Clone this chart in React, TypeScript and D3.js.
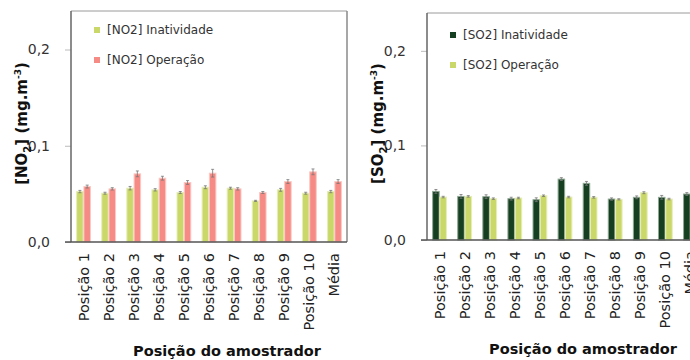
import React, { useEffect, useRef } from "react";
import * as d3 from "d3";

const categories = [
  "Posição 1", "Posição 2", "Posição 3", "Posição 4", "Posição 5",
  "Posição 6", "Posição 7", "Posição 8", "Posição 9", "Posição 10", "Média",
];

const no2Inatividade = [0.0524, 0.0507, 0.0559, 0.0542, 0.0514, 0.0569, 0.0559, 0.0427, 0.0542, 0.0507, 0.0524];
const no2InatividadeErr = [0.0012, 0.0010, 0.0018, 0.0012, 0.0010, 0.0015, 0.0010, 0.0006, 0.0015, 0.0010, 0.0012];
const no2Operacao = [0.0576, 0.0552, 0.0708, 0.0663, 0.0618, 0.0715, 0.0552, 0.0514, 0.0628, 0.0729, 0.0628];
const no2OperacaoErr = [0.0015, 0.0012, 0.0030, 0.0020, 0.0020, 0.0040, 0.0012, 0.0010, 0.0020, 0.0030, 0.0020];

const so2Inatividade = [0.0514, 0.0461, 0.0458, 0.0437, 0.0426, 0.0644, 0.0599, 0.0433, 0.0451, 0.0451, 0.0486];
const so2InatividadeErr = [0.0020, 0.0020, 0.0020, 0.0015, 0.0020, 0.0015, 0.0020, 0.0012, 0.0015, 0.0020, 0.0015];
const so2Operacao = [0.0454, 0.0461, 0.0437, 0.0444, 0.0468, 0.0454, 0.0451, 0.0430, 0.0500, 0.0433, 0.0453];
const so2OperacaoErr = [0.0008, 0.0008, 0.0008, 0.0008, 0.0008, 0.0008, 0.0008, 0.0006, 0.0010, 0.0008, 0.0008];

const yTicks = [0, 0.1, 0.2];

const FONT = "'DejaVu Sans', sans-serif";

type Series = { name: string; values: number[]; errs: number[]; color: string; edge: string };

type PanelOpts = {
  x0: number;
  x1: number;
  top: number;
  base: number;
  gas: string;
  legendDy: number;
  series: Series[];
};

const drawPanel = (svg: d3.Selection<SVGSVGElement, unknown, null, undefined>, o: PanelOpts) => {
  const g = svg.append("g");
  const y = d3.scaleLinear().domain([0, 0.24]).range([o.base, o.top]);
  const x = d3.scaleBand<string>().domain(categories).range([o.x0, o.x1]).paddingInner(0.45).paddingOuter(0.225);
  const sub = d3.scaleBand<number>().domain([0, 1]).range([0, x.bandwidth()]).paddingInner(0.1);
  const fmt = (v: number) => d3.format(".1f")(v).replace(".", ",");

  // frame
  g.append("line").attr("x1", o.x0).attr("x2", o.x1).attr("y1", o.top).attr("y2", o.top)
    .attr("stroke", "#9a9a9a").attr("stroke-width", 1);
  g.append("line").attr("x1", o.x1).attr("x2", o.x1).attr("y1", o.top).attr("y2", o.base)
    .attr("stroke", "#8a8a8a").attr("stroke-width", 1.5);

  // y axis
  const yAxis = g.append("g").attr("transform", `translate(${o.x0},0)`)
    .call(d3.axisLeft(y).tickValues(yTicks).tickSize(6).tickPadding(15).tickFormat((d) => fmt(d as number)));
  yAxis.select(".domain").remove();
  yAxis.selectAll(".tick line").attr("stroke", "#bbb");
  yAxis.selectAll(".tick text").attr("font-family", FONT).attr("font-size", 14).attr("fill", "#333");
  g.append("line").attr("x1", o.x0).attr("x2", o.x0).attr("y1", o.top).attr("y2", o.base)
    .attr("stroke", "#666").attr("stroke-width", 1.5);

  // bars
  o.series.forEach((s, si) => {
    const bars = g.append("g");
    bars.selectAll("rect").data(s.values).join("rect")
      .attr("x", (_, i) => (x(categories[i]) ?? 0) + (sub(si) ?? 0))
      .attr("y", (d) => y(d))
      .attr("width", sub.bandwidth())
      .attr("height", (d) => y(0) - y(d))
      .attr("fill", s.color)
      .attr("stroke", s.edge)
      .attr("stroke-width", 1);
    const cx = (i: number) => (x(categories[i]) ?? 0) + (sub(si) ?? 0) + sub.bandwidth() / 2;
    bars.selectAll("path.err").data(s.values).join("path")
      .attr("class", "err")
      .attr("d", (d, i) => {
        const c = cx(i);
        const hi = y(d + s.errs[i]);
        const lo = y(d - s.errs[i]);
        return `M${c},${lo}V${hi}M${c - 1.5},${hi}H${c + 1.5}M${c - 1.5},${lo}H${c + 1.5}`;
      })
      .attr("stroke", "#777").attr("stroke-width", 0.8).attr("fill", "none");
  });

  // baseline
  g.append("line").attr("x1", o.x0 - 6).attr("x2", o.x1).attr("y1", o.base).attr("y2", o.base)
    .attr("stroke", "#555").attr("stroke-width", 1.5);

  // x labels
  g.append("g").selectAll("text").data(categories).join("text")
    .attr("transform", (d) => `translate(${(x(d) ?? 0) + x.bandwidth() / 2 + 5},${o.base + 11}) rotate(-90)`)
    .attr("text-anchor", "end")
    .attr("font-family", FONT).attr("font-size", 14.5).attr("fill", "#222")
    .text((d) => d);

  // axis titles
  g.append("text")
    .attr("x", o.x0 + 156).attr("y", o.base + 114)
    .attr("text-anchor", "middle")
    .attr("font-family", FONT).attr("font-weight", "bold").attr("font-size", 14.5).attr("fill", "#111")
    .text("Posição do amostrador");

  const yl = g.append("text")
    .attr("transform", `translate(${o.x0 - 44},${(o.top + o.base) / 2 - 3}) rotate(-90)`)
    .attr("text-anchor", "middle")
    .attr("font-family", FONT).attr("font-weight", "bold").attr("font-size", 15).attr("fill", "#111");
  yl.append("tspan").text(`[${o.gas}O`);
  yl.append("tspan").attr("font-size", 10).attr("dy", 4).text("2");
  yl.append("tspan").attr("dy", -4).text("] (mg.m");
  yl.append("tspan").attr("font-size", 9).attr("dy", -6).text("-3");
  yl.append("tspan").attr("dy", 6).text(")");

  // legend
  o.series.forEach((s, si) => {
    const ly = o.top + o.legendDy + si * 30;
    g.append("rect").attr("x", o.x0 + 23).attr("y", ly).attr("width", 6).attr("height", 6).attr("fill", s.color);
    g.append("text").attr("x", o.x0 + 36).attr("y", ly + 7)
      .attr("font-family", FONT).attr("font-size", 12).attr("fill", "#333")
      .text(s.name);
  });
};

const App = () => {
  const ref = useRef<SVGSVGElement>(null);

  useEffect(() => {
    if (!ref.current) return;
    const svg = d3.select(ref.current);
    svg.selectAll("*").remove();

    drawPanel(svg, {
      x0: 71, x1: 347, top: 11, base: 242, gas: "N", legendDy: 16,
      series: [
        { name: "[NO2] Inatividade", values: no2Inatividade, errs: no2InatividadeErr, color: "#cad86a", edge: "#e6eeb8" },
        { name: "[NO2] Operação", values: no2Operacao, errs: no2OperacaoErr, color: "#f58b84", edge: "#fbc9c5" },
      ],
    });
    drawPanel(svg, {
      x0: 427, x1: 703, top: 13, base: 240, gas: "S", legendDy: 19,
      series: [
        { name: "[SO2] Inatividade", values: so2Inatividade, errs: so2InatividadeErr, color: "#163f22", edge: "#8ea893" },
        { name: "[SO2] Operação", values: so2Operacao, errs: so2OperacaoErr, color: "#cad86a", edge: "#e6eeb8" },
      ],
    });
  }, []);

  return (
    <svg ref={ref} width={690} height={360} style={{ position: "absolute", left: 0, top: 0, background: "#fff" }} />
  );
};

export default App;
